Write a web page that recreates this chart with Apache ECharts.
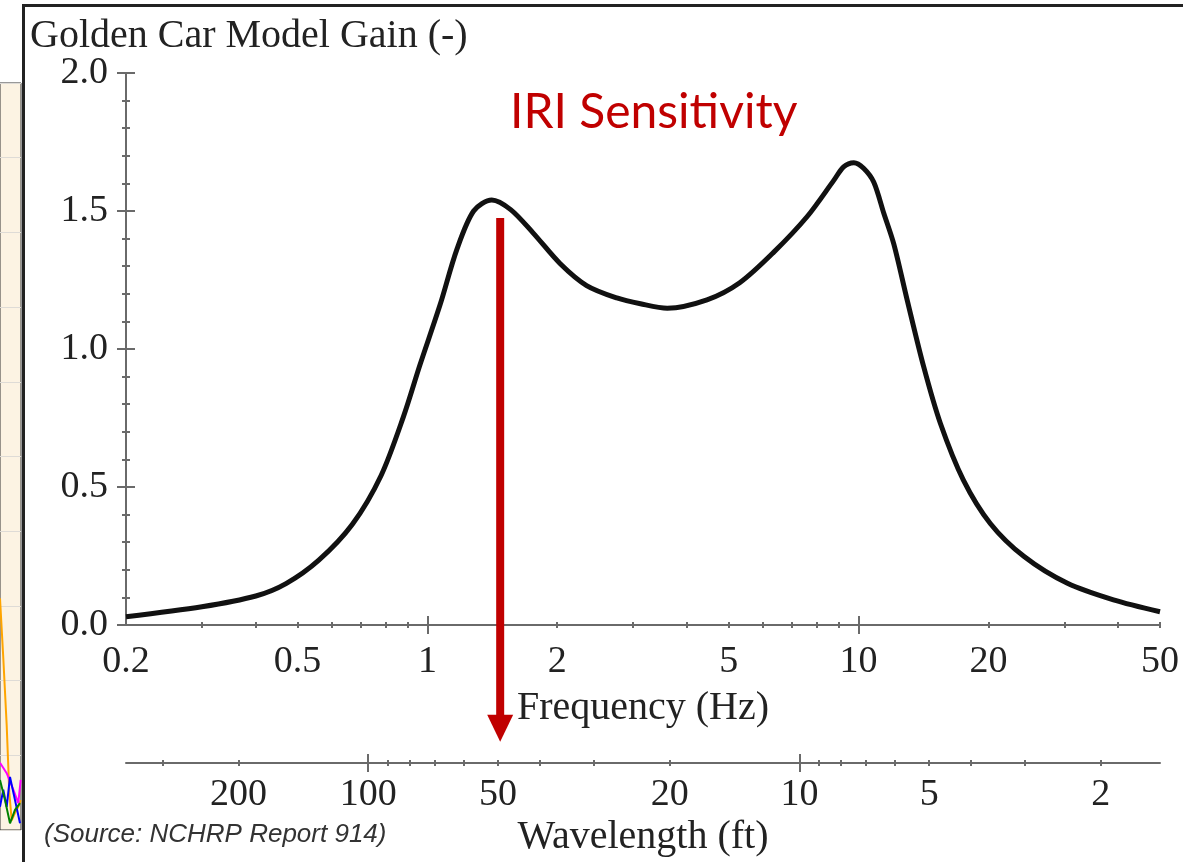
<!DOCTYPE html>
<html>
<head>
    <meta charset="utf-8">
    <title>Golden Car Model Gain</title>
    <script src="https://cdn.jsdelivr.net/npm/echarts@6/dist/echarts.min.js"></script>
    <style>
        html, body { margin: 0; padding: 0; background: #fff; }
    </style>
</head>
<body>
    <div id="main" style="width: 1183px;height:862px;"></div>
    <script type="text/javascript">

    // curve (frequency in Hz, gain)
    var freqHz = [0.2, 0.3, 0.4, 0.47, 0.56, 0.67, 0.78, 0.88, 0.96, 1.07, 1.17, 1.28, 1.41, 1.56, 1.76, 2.03, 2.34, 2.75, 3.12, 3.6, 4.45, 5.3, 6.35, 7.6, 8.75, 9.23, 9.75, 10.27, 10.84, 11.45, 12.07, 12.95, 14.16, 15.48, 17.5, 20.2, 24.2, 30.5, 39, 50];
    var gain   = [0.03, 0.066, 0.105, 0.15, 0.235, 0.365, 0.54, 0.755, 0.94, 1.16, 1.36, 1.50, 1.54, 1.505, 1.42, 1.31, 1.23, 1.185, 1.164, 1.148, 1.178, 1.24, 1.35, 1.48, 1.61, 1.66, 1.675, 1.655, 1.605, 1.49, 1.38, 1.18, 0.935, 0.73, 0.525, 0.368, 0.248, 0.151, 0.091, 0.048];

    var freqLabels = [0.2, 0.5, 1, 2, 5, 10, 20, 50];
    var freqMinorTicks = [0.3, 0.4, 0.5, 0.6, 0.7, 0.8, 0.9, 2, 3, 4, 5, 6, 7, 8, 9, 20, 30, 40, 50];
    var freqMajorTicks = [1, 10];

    var waveLabels = [200, 100, 50, 20, 10, 5, 2];
    var waveMinorTicks = [300, 200, 90, 80, 70, 60, 50, 40, 30, 20, 9, 8, 7, 6, 5, 4, 3, 2];
    var waveMajorTicks = [100, 10];

    // IRI simulation speed 80 km/h in ft/s -> wavelength = speed / frequency
    var SPEED_FTS = 72.91;

    // red arrow (frequency, top gain, tip gain below the axis)
    var arrowFreq = 1.475;
    var arrowTop = 1.475;
    var arrowTip = -0.423;

    // sliver of the neighbouring slide chart on the left
    var sideOrange  = [[0, 3.1], [3.3, 2.3], [6.7, 1.4], [9.3, 0.5], [11.7, 0.13], [15, 0.23], [18.3, 0.31], [20.7, 0.4]];
    var sideMagenta = [[0, 0.9], [6.7, 0.76], [13.3, 0.54], [18.3, 0.36], [20.7, 0.67]];
    var sideBlue    = [[0, 0.31], [3.3, 0.54], [6.7, 0.31], [10, 0.71], [15, 0.4], [20, 0.09]];
    var sideGreen   = [[0, 0.67], [5, 0.4], [10, 0.09], [15, 0.27], [20, 0.36]];

    var serif = "'Liberation Serif', 'Times New Roman', serif";
    var axisGray = '#6a6a6a';
    var txt = '#222';
    var red = '#c00000';

    var curve = freqHz.map(function (f, i) { return [f, gain[i]]; });

    function tickAxis(base, offset, ticks, len) {
        return Object.assign({}, base, {
            offset: offset,
            axisLine: { show: false },
            axisLabel: { show: false },
            splitLine: { show: false },
            axisTick: { show: true, length: len, customValues: ticks, lineStyle: { color: axisGray, width: 2 } }
        });
    }

    var freqBase = { type: 'log', logBase: 10, min: 0.2, max: 50, gridIndex: 0, position: 'bottom' };
    var waveBase = { type: 'log', logBase: 10, min: SPEED_FTS / 50, max: SPEED_FTS / 0.2, inverse: true, gridIndex: 0, position: 'bottom' };
    var gainBase = { type: 'value', min: 0, max: 2, gridIndex: 0, position: 'left' };

    var myChart = echarts.init(document.getElementById('main'));

    var option = {
        animation: false,
        backgroundColor: '#fff',
        title: {
            text: 'Golden Car Model Gain (-)',
            left: 25, top: 11,
            textStyle: { fontFamily: serif, fontSize: 40, fontWeight: 'normal', color: txt }
        },
        grid: [
            { left: 126, right: 23, top: 73, bottom: 237, outerBoundsMode: 'none', containLabel: false },
            { left: 0, top: 83, width: 21, height: 747, show: true, backgroundColor: '#fcf3e3', borderColor: '#333', borderWidth: 1, outerBoundsMode: 'none' }
        ],
        xAxis: [
            Object.assign({}, freqBase, {
                name: 'Frequency (Hz)', nameLocation: 'middle', nameGap: 63, nameMoveOverlap: false,
                nameTextStyle: { fontFamily: serif, fontSize: 40, color: txt },
                axisLine: { show: true, lineStyle: { color: axisGray, width: 2 } },
                axisTick: { show: false },
                splitLine: { show: false },
                minorTick: { show: false },
                axisLabel: { customValues: freqLabels, margin: 18, fontFamily: serif, fontSize: 38, color: txt,
                    formatter: function (v) { return String(+v.toFixed(1)); } }
            }),
            tickAxis(freqBase, -3, freqMinorTicks, 6),
            tickAxis(freqBase, -9, freqMajorTicks, 18),
            Object.assign({}, waveBase, {
                offset: 138,
                name: 'Wavelength (ft)', nameLocation: 'middle', nameGap: 54, nameMoveOverlap: false,
                nameTextStyle: { fontFamily: serif, fontSize: 40, color: txt },
                axisLine: { show: true, lineStyle: { color: axisGray, width: 2 } },
                axisTick: { show: false },
                splitLine: { show: false },
                axisLabel: { customValues: waveLabels, margin: 13, fontFamily: serif, fontSize: 38, color: txt,
                    formatter: function (v) { return String(Math.round(v)); } }
            }),
            tickAxis(waveBase, 135, waveMinorTicks, 6),
            tickAxis(waveBase, 129, waveMajorTicks, 18),
            { type: 'value', gridIndex: 1, min: 0, max: 21, show: false }
        ],
        yAxis: [
            Object.assign({}, gainBase, {
                interval: 0.5,
                axisLine: { show: true, lineStyle: { color: axisGray, width: 2 } },
                axisTick: { show: false },
                splitLine: { show: false },
                axisLabel: { margin: 18, fontFamily: serif, fontSize: 38, color: txt,
                    formatter: function (v) { return v.toFixed(1); } }
            }),
            Object.assign(tickAxis(gainBase, -9, null, 18), { interval: 0.5 }),
            Object.assign(tickAxis(gainBase, -4, null, 8), { interval: 0.1 }),
            { type: 'value', gridIndex: 1, min: 0, max: 10, interval: 1,
              axisLine: { show: false }, axisTick: { show: false }, axisLabel: { show: false },
              splitLine: { show: true, lineStyle: { color: '#dedbd6', width: 1 } } }
        ],
        series: [
            {
                type: 'line',
                xAxisIndex: 0, yAxisIndex: 0,
                data: curve,
                smooth: 0.3,
                showSymbol: false,
                symbol: 'none',
                lineStyle: { color: '#111', width: 5 },
                z: 3
            },
            { type: 'line', xAxisIndex: 6, yAxisIndex: 3, data: sideOrange, symbol: 'none', lineStyle: { color: '#ffa500', width: 2 } },
            { type: 'line', xAxisIndex: 6, yAxisIndex: 3, data: sideMagenta, symbol: 'none', lineStyle: { color: '#ff00ff', width: 2 } },
            { type: 'line', xAxisIndex: 6, yAxisIndex: 3, data: sideBlue, symbol: 'none', lineStyle: { color: '#0000ff', width: 2 } },
            { type: 'line', xAxisIndex: 6, yAxisIndex: 3, data: sideGreen, symbol: 'none', lineStyle: { color: '#008000', width: 2 } }
        ],
        graphic: [
            { id: 'iri', type: 'text', left: 510, top: 89, style: { text: 'IRI Sensitivity', font: '48px Lato', fill: red } },
            { id: 'source', type: 'text', left: 44, top: 822, style: { text: '(Source: NCHRP Report 914)', font: 'italic 26px "Liberation Sans"', fill: '#333' } },
            // frame of the chart panel
            { id: 'frameL', type: 'line', shape: { x1: 23.5, y1: 4, x2: 23.5, y2: 862 }, style: { stroke: '#222', lineWidth: 3 }, z: 10 },
            { id: 'frameT', type: 'line', shape: { x1: 22, y1: 5.5, x2: 1183, y2: 5.5 }, style: { stroke: '#222', lineWidth: 3 }, z: 10 }
        ]
    };

    myChart.setOption(option);

    // arrow: placed through the chart's own axes (goes below the plot, so not a markLine)
    var pTop = myChart.convertToPixel({ xAxisIndex: 0, yAxisIndex: 0 }, [arrowFreq, arrowTop]);
    var pTip = myChart.convertToPixel({ xAxisIndex: 0, yAxisIndex: 0 }, [arrowFreq, arrowTip]);
    var headLen = 27, headHalf = 13;
    myChart.setOption({
        graphic: [
            { id: 'arrowShaft', type: 'line', shape: { x1: pTop[0], y1: pTop[1], x2: pTip[0], y2: pTip[1] - headLen + 2 },
              style: { stroke: red, lineWidth: 8 }, z: 5 },
            { id: 'arrowHead', type: 'polygon', shape: { points: [[pTip[0] - headHalf, pTip[1] - headLen], [pTip[0] + headHalf, pTip[1] - headLen], [pTip[0], pTip[1]]] },
              style: { fill: red }, z: 5 }
        ]
    });
    </script>
</body>
</html>
